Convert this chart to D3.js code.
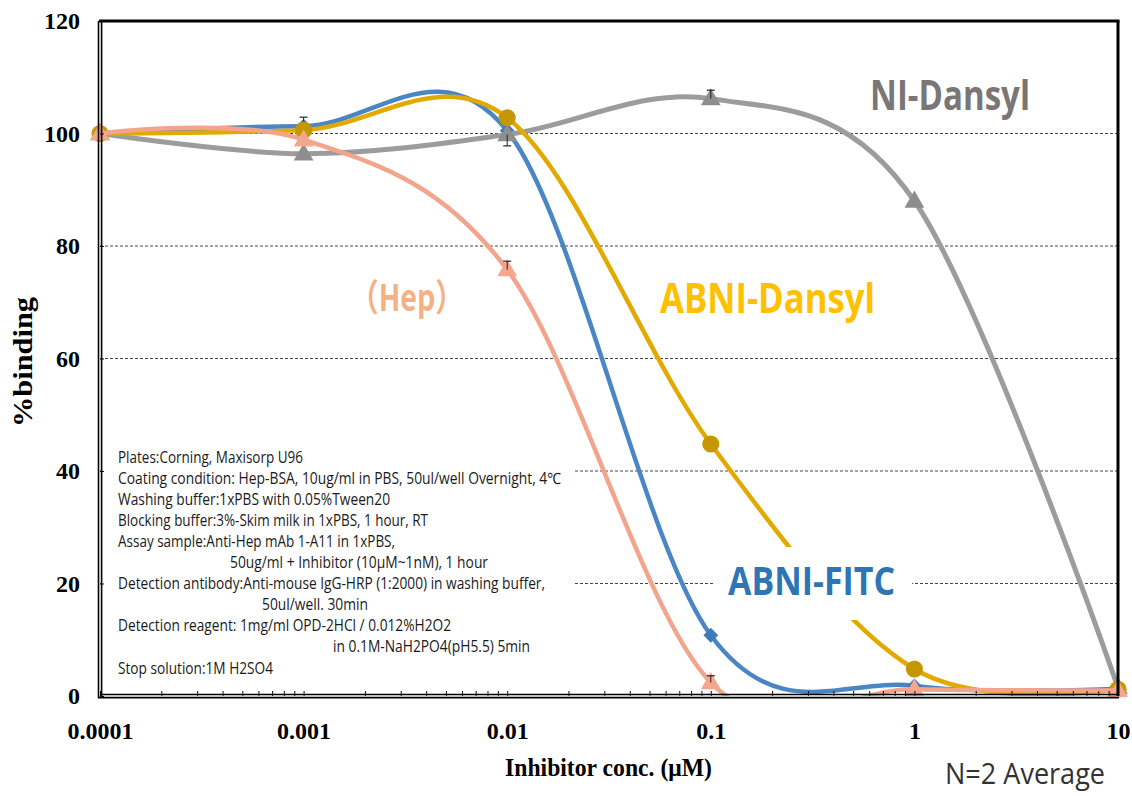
<!DOCTYPE html>
<html><head><meta charset="utf-8">
<script src="https://cdn.jsdelivr.net/npm/d3@7"></script>
<style>body{margin:0;background:#fff}svg{display:block}</style>
</head><body><svg id="c" width="1132" height="796"></svg>
<script>
// ---------- data ----------
const concentrations = [0.0001, 0.001, 0.01, 0.1, 1, 10];
const xTickValues = [0.0001, 0.001, 0.01, 0.1, 1, 10];
const xTickLabels = ["0.0001", "0.001", "0.01", "0.1", "1", "10"];
const yTickValues = [0, 20, 40, 60, 80, 100, 120];
const gridValues = [20, 40, 60, 80, 100];

const abniFitc    = [100, 101.3, 100.5, 10.8, 1.8, 1.3];
const niDansyl    = [100, 96.4, 99.8, 106.2, 88.0, 1.5];
const abniDansyl  = [100, 100.6, 102.8, 44.8, 4.8, 1.2];
const hep         = [100, 98.9, 75.8, 2.4, 1.2, 1.0];

// error bars (upper / lower extent, in % binding)
const abniFitcErrUp     = [0, 1.6, 0, 0, 0, 0];
const abniFitcErrDown   = [0, 0, 0, 0, 0, 0];
const niDansylErrUp     = [0, 0, 0, 1.5, 0, 0];
const niDansylErrDown   = [0, 0, 2.0, 0, 0, 0];
const abniDansylErrUp   = [0, 0, 0, 0, 0, 0];
const abniDansylErrDown = [0, 0, 0, 0, 0, 0];
const hepErrUp          = [0, 0, 1.5, 1.2, 0, 0];
const hepErrDown        = [0, 0, 0, 0, 0, 0];

const seriesLabels = ["ABNI-FITC", "NI-Dansyl", "ABNI-Dansyl", "（Hep）"];
const noteLines = [
  "Plates:Corning, Maxisorp U96",
  "Coating condition:   Hep-BSA, 10ug/ml in PBS, 50ul/well Overnight, 4℃",
  "Washing buffer:1xPBS with 0.05%Tween20",
  "Blocking buffer:3%-Skim milk in  1xPBS, 1 hour, RT",
  "Assay sample:Anti-Hep mAb 1-A11 in 1xPBS,",
  "50ug/ml + Inhibitor (10μM~1nM), 1 hour",
  "Detection antibody:Anti-mouse IgG-HRP (1:2000)  in washing buffer,",
  "50ul/well. 30min",
  "Detection reagent:  1mg/ml OPD-2HCl / 0.012%H2O2",
  "in 0.1M-NaH2PO4(pH5.5) 5min",
  "Stop solution:1M H2SO4"
];
const xTitle = "Inhibitor conc. (μM)";
const yTitle = "%binding";
const footNote = "N=2 Average";

// ---------- layout ----------
const L = 100, R = 1118, T = 21, B = 696;
const svg = d3.select("#c");
const x = d3.scaleLog().domain([1e-4, 10]).range([L, R]);
const y = d3.scaleLinear().domain([0, 120]).range([B, T]);

// gridlines
svg.append("g").selectAll("line").data(gridValues).join("line")
  .attr("x1", L).attr("x2", R)
  .attr("y1", d => y(d)).attr("y2", d => y(d))
  .attr("stroke", "#444").attr("stroke-width", 1).attr("stroke-dasharray", "3,2");

// note box (white background hides gridlines)
svg.append("rect").attr("x", 102).attr("y", 446).attr("width", 472).attr("height", 248).attr("fill", "#fff");
const noteLayout = [
  [118, 463, 185], [118, 484, 443], [118, 505, 272], [118, 526, 310], [118, 547, 277],
  [230, 568, 258], [118, 589, 427], [262, 610, 106], [118, 631, 333], [333, 652, 197],
  [118, 674, 155]
];
const notes = svg.append("g").attr("font-family", "'Open Sans', 'Noto Sans', sans-serif")
  .attr("font-size", 15.5).attr("fill", "#1a1a1a");
noteLines.forEach((t, i) => {
  const [nx, ny, nw] = noteLayout[i];
  notes.append("text").attr("x", nx).attr("y", ny)
    .attr("textLength", nw).attr("lengthAdjust", "spacingAndGlyphs").text(t);
});

// clip
svg.append("clipPath").attr("id", "plotclip").append("rect")
  .attr("x", L).attr("y", T).attr("width", R - L).attr("height", B - T);

const line = d3.line().curve(d3.curveCardinal.tension(0));

function drawSeries(vals, errUp, errDown, st) {
  const g = svg.append("g");
  const pts = concentrations.map((c, i) => [x(c), y(vals[i])]);
  g.append("path").attr("d", line(pts)).attr("fill", "none")
    .attr("stroke", st.line).attr("stroke-width", st.w)
    .attr("clip-path", "url(#plotclip)");
  const sym = d3.symbol().type(st.shape).size(st.size);
  g.selectAll("path.m").data(concentrations).join("path").attr("class", "m")
    .attr("d", sym())
    .attr("transform", (c, i) => `translate(${x(c)},${y(vals[i]) + (st.dy || 0)})` + (st.rot ? " rotate(45)" : ""))
    .attr("fill", st.marker);
  concentrations.forEach((c, i) => {
    const cx = x(c), cy = y(vals[i]);
    [[errUp[i], 1], [errDown[i], -1]].forEach(([e, s]) => {
      if (!e) return;
      const ye = y(vals[i] + s * e);
      g.append("line").attr("x1", cx).attr("x2", cx).attr("y1", cy).attr("y2", ye).attr("stroke", "#222").attr("stroke-width", 1);
      g.append("line").attr("x1", cx - 4).attr("x2", cx + 4).attr("y1", ye).attr("y2", ye).attr("stroke", "#222").attr("stroke-width", 1.2);
    });
  });
}

drawSeries(abniFitc, abniFitcErrUp, abniFitcErrDown, {line: "#4a86c4", marker: "#3d7bbd", w: 4.5, shape: d3.symbolSquare, size: 110, rot: true});
drawSeries(niDansyl, niDansylErrUp, niDansylErrDown, {line: "#9c9c9c", marker: "#8e8e8e", w: 5, shape: d3.symbolTriangle, size: 170, dy: 1});
drawSeries(abniDansyl, abniDansylErrUp, abniDansylErrDown, {line: "#e2aa00", marker: "#c49600", w: 4.5, shape: d3.symbolCircle, size: 230});
drawSeries(hep, hepErrUp, hepErrDown, {line: "#f2a48c", marker: "#f4a68e", w: 4.5, shape: d3.symbolTriangle, size: 170, dy: 1});

// series labels
const lab = svg.append("g").attr("font-family", "'Open Sans', 'Noto Sans', sans-serif").attr("font-weight", "bold");
lab.append("rect").attr("x", 714).attr("y", 547).attr("width", 198).attr("height", 73).attr("fill", "#fff");
lab.append("text").attr("x", 728).attr("y", 595).attr("font-size", 39).attr("fill", "#2e75b6")
  .attr("textLength", 167).attr("lengthAdjust", "spacingAndGlyphs").text(seriesLabels[0]);
lab.append("text").attr("x", 870).attr("y", 110).attr("font-size", 42).attr("fill", "#7a7676")
  .attr("textLength", 160).attr("lengthAdjust", "spacingAndGlyphs").text(seriesLabels[1]);
lab.append("text").attr("x", 660).attr("y", 313).attr("font-size", 42).attr("fill", "#ffc000")
  .attr("textLength", 215).attr("lengthAdjust", "spacingAndGlyphs").text(seriesLabels[2]);
lab.append("text").attr("x", 350).attr("y", 311).attr("font-size", 37).attr("fill", "#f4b183")
  .attr("font-family", "'Noto Sans CJK JP', 'Noto Sans', sans-serif")
  .attr("textLength", 114).attr("lengthAdjust", "spacingAndGlyphs").text(seriesLabels[3]);

// axes
const isMajor = d => Math.abs(Math.log10(d) - Math.round(Math.log10(d))) < 1e-9;
const xAxis = d3.axisBottom(x).tickValues(x.ticks()).tickSizeInner(-5).tickSizeOuter(0)
  .tickFormat(d => { if (!isMajor(d)) return ""; const i = xTickValues.findIndex(v => Math.abs(Math.log10(v) - Math.log10(d)) < 1e-9); return i >= 0 ? xTickLabels[i] : ""; });
const gx = svg.append("g").attr("transform", `translate(0,${B})`).call(xAxis);
gx.select(".domain").remove();
gx.selectAll("line").attr("stroke", "#111");
gx.selectAll("text").attr("y", 26).attr("dy", "0.71em")
  .attr("font-family", "'Liberation Serif', 'Times New Roman', serif").attr("font-weight", "bold")
  .attr("font-size", 24).attr("fill", "#000");

const yAxis = d3.axisLeft(y).tickValues(yTickValues).tickSizeInner(-4).tickSizeOuter(0).tickPadding(20);
const gy = svg.append("g").attr("transform", `translate(${L},0)`).call(yAxis);
gy.select(".domain").remove();
gy.selectAll("line").attr("stroke", "#111");
gy.selectAll("text").attr("font-family", "'Liberation Serif', 'Times New Roman', serif").attr("font-weight", "bold")
  .attr("font-size", 24).attr("fill", "#000");

// frame
const fr = svg.append("g").attr("stroke", "#000");
fr.append("line").attr("x1", L - 1).attr("x2", R + 1.5).attr("y1", T).attr("y2", T).attr("stroke-width", 3);
fr.append("line").attr("x1", R).attr("x2", R).attr("y1", T).attr("y2", B).attr("stroke-width", 3);
fr.append("line").attr("x1", L - 1.5).attr("x2", L - 1.5).attr("y1", T).attr("y2", B + 2).attr("stroke-width", 1.6);
fr.append("line").attr("x1", L + 1.6).attr("x2", L + 1.6).attr("y1", T).attr("y2", B).attr("stroke-width", 1.6);
fr.append("line").attr("x1", L - 2).attr("x2", R + 1).attr("y1", B + 1.6).attr("y2", B + 1.6).attr("stroke-width", 1.6);
fr.append("line").attr("x1", L).attr("x2", R + 1).attr("y1", B - 1.5).attr("y2", B - 1.5).attr("stroke-width", 1.6);

// titles
svg.append("text").attr("x", 505).attr("y", 776)
  .attr("font-family", "'Liberation Serif', 'Times New Roman', serif").attr("font-weight", "bold")
  .attr("font-size", 26).attr("textLength", 207).attr("lengthAdjust", "spacingAndGlyphs").text(xTitle);
svg.append("text").attr("transform", "translate(32,362) rotate(-90)").attr("text-anchor", "middle")
  .attr("font-family", "'Liberation Serif', 'Times New Roman', serif").attr("font-weight", "bold")
  .attr("font-size", 28).attr("textLength", 130).attr("lengthAdjust", "spacingAndGlyphs").text(yTitle);
svg.append("text").attr("x", 945).attr("y", 784)
  .attr("font-family", "'Open Sans', 'Noto Sans', sans-serif").attr("font-size", 29).attr("fill", "#333")
  .attr("textLength", 160).attr("lengthAdjust", "spacingAndGlyphs").text(footNote);
</script></body></html>
